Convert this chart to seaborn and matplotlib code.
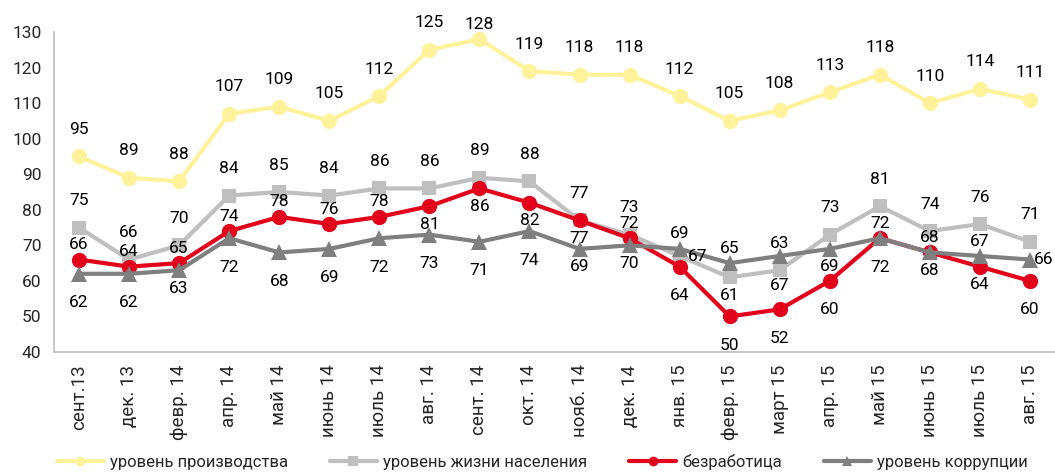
import numpy as np
import pandas as pd
import seaborn as sns
import matplotlib.pyplot as plt
from matplotlib.lines import Line2D

months = ["сент.13", "дек. 13", "февр. 14", "апр. 14", "май 14", "июнь 14", "июль 14",
          "авг. 14", "сент. 14", "окт. 14", "нояб. 14", "дек. 14", "янв. 15", "февр. 15",
          "март 15", "апр. 15", "май 15", "июнь 15", "июль 15", "авг. 15"]

production = [95, 89, 88, 107, 109, 105, 112, 125, 128, 119, 118, 118, 112, 105, 108, 113, 118, 110, 114, 111]
living = [75, 66, 70, 84, 85, 84, 86, 86, 89, 88, 77, 73, 67, 61, 63, 73, 81, 74, 76, 71]
unemployment = [66, 64, 65, 74, 78, 76, 78, 81, 86, 82, 77, 72, 64, 50, 52, 60, 72, 68, 64, 60]
corruption = [62, 62, 63, 72, 68, 69, 72, 73, 71, 74, 69, 70, 69, 65, 67, 69, 72, 68, 67, 66]

names = ["уровень производства", "уровень жизни населения", "безработица", "уровень коррупции"]

# где стоит подпись: A - высоко сверху, a - сверху, b - снизу, B - низко, r - справа, e - справа у края
pos_prod = "AAAAAAAAaAAAAAAAAAAA"
pos_living = "AAAAAAAAAAAArbAAAAAA"
pos_unemp = "aaaaaaabbbbaBBBBaabB"
pos_corr = "BBbBBBBBBBbbaaBbBbae"

colors = ["#FFF29A", "#BFBFBF", "#E2001A", "#7F7F7F"]
markers = ["o", "s", "o", "^"]
msizes = [11, 10, 11, 11]

offs = {"A": (0, 27), "a": (0, 15), "b": (0, -18), "B": (0, -29), "r": (8, 0), "e": (4, 0)}

sns.set_theme(style="white")
plt.rcParams["font.family"] = ["Roboto", "DejaVu Sans"]

fig = plt.figure(figsize=(10.55, 4.73), dpi=100)
ax = fig.add_axes([54 / 1055, 1 - 352 / 473, 1 - 54 / 1055, 320 / 473])

x = np.arange(len(months))
series = [production, living, unemployment, corruption]
places = [pos_prod, pos_living, pos_unemp, pos_corr]

for i, (vals, name) in enumerate(zip(series, names)):
    df = pd.DataFrame({"x": x, "y": vals})
    sns.lineplot(data=df, x="x", y="y", ax=ax, color=colors[i], marker=markers[i],
                 markersize=msizes[i], markeredgewidth=0, linewidth=3, sort=False,
                 zorder=2 + i, label=name)

for vals, pl in zip(series, places):
    for xi, v, p in zip(x, vals, pl):
        dx, dy = offs[p]
        ax.annotate(str(v), (xi, v), xytext=(dx, dy), textcoords="offset pixels",
                    ha="left" if p in "re" else "center", va="center",
                    fontsize=12.5, color="black", zorder=10)

ax.set_xlim(-0.5, len(months) - 0.5)
ax.set_ylim(40, 130)
ax.set_yticks(range(40, 131, 10))
ax.set_xticks(x)
ax.set_xticklabels(months, rotation=90, fontsize=13.5, va="top")
ax.set_xticks(np.arange(-0.5, len(months), 1), minor=True)
ax.tick_params(axis="x", which="major", length=0, pad=9)
ax.tick_params(axis="x", which="minor", length=5, color="#BFBFBF", width=1.2, direction="out")
ax.tick_params(axis="y", length=5, color="#BFBFBF", width=1.2, direction="out", labelsize=12.5, pad=4)
ax.set_xlabel("")
ax.set_ylabel("")
sns.despine(ax=ax)
for s in ["left", "bottom"]:
    ax.spines[s].set_color("#BFBFBF")
    ax.spines[s].set_linewidth(1.2)
ax.legend_.remove()

handles = [Line2D([], [], color=colors[i], marker=markers[i], markersize=7, markeredgewidth=0,
                  linewidth=3) for i in range(4)]
fig.legend(handles, names, loc="center left", bbox_to_anchor=(57 / 1055, 1 - 462 / 473),
           ncol=4, frameon=False, fontsize=12, handlelength=2.8, handletextpad=0.4,
           columnspacing=2.5, borderaxespad=0, borderpad=0)

fig.savefig("out.png", dpi=100)
